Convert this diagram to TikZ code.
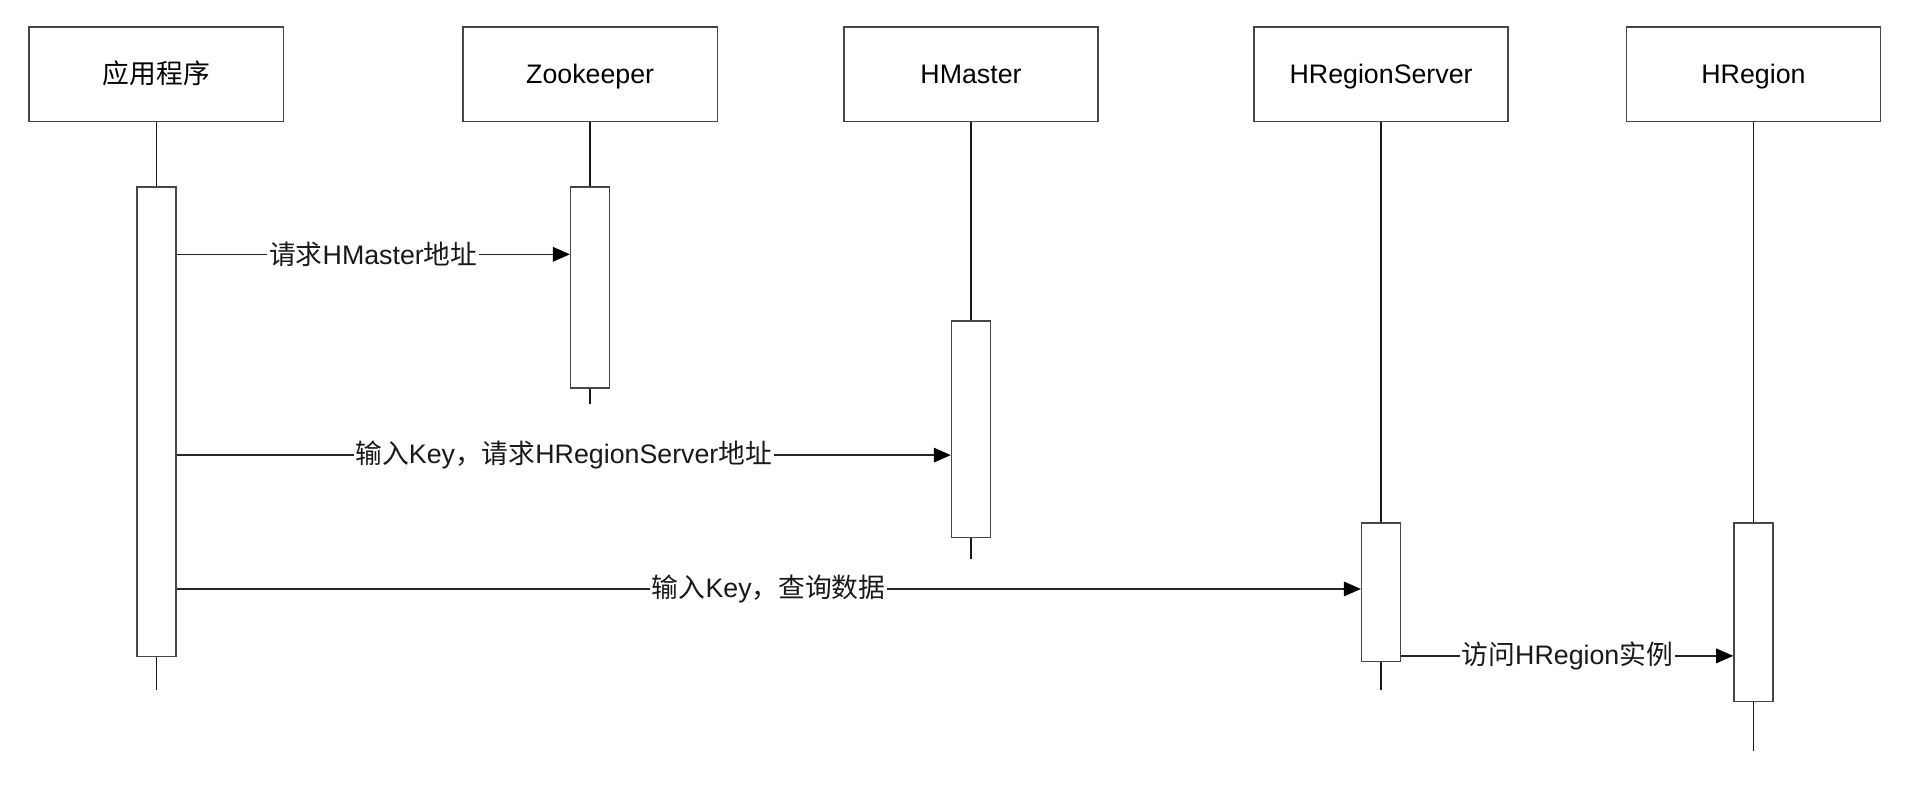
\documentclass[tikz,border=0pt]{standalone}
\usepackage{fontspec}
\setmainfont{Liberation Sans}
\newfontfamily\cjk{Noto Sans CJK SC}
\usetikzlibrary{arrows.meta}
\begin{document}
\begin{tikzpicture}[x=1pt,y=-1pt,
  actor/.style={draw=black!72, line width=1.3pt, fill=white, minimum width=209pt, minimum height=78pt, inner sep=0pt, text height=16pt, text depth=0pt, font=\fontsize{22}{26}\selectfont},
  actbar/.style={draw=black!72, line width=1.3pt, fill=white, minimum width=32pt, inner sep=0pt, anchor=north},
  life/.style={draw=black!90, line width=1.3pt},
  msg/.style={draw=black!85, line width=1.2pt, -{Triangle[length=14pt,width=12pt,color=black]}},
  lbl/.style={fill=white, inner sep=1.5pt, font=\fontsize{22}{26}\selectfont, text=black!90}]
\useasboundingbox[fill=white] (0,0) rectangle (1568,664);

% participants
\node[actor] (b1) at (128.5,61) {{\cjk 应用程序}};
\node[actor] (b2) at (485,61) {Zookeeper};
\node[actor] (b3) at (798,61) {HMaster};
\node[actor] (b4) at (1135,61) {HRegionServer};
\node[actor] (b5) at (1441,61) {HRegion};

% activation bars
\node[actbar, minimum height=386pt] (a1) at (128.5,153) {};
\node[actbar, minimum height=165pt] (a2) at (485,153) {};
\node[actbar, minimum height=178pt] (a3) at (798,263) {};
\node[actbar, minimum height=114pt] (a4) at (1135,429) {};
\node[actbar, minimum height=147pt] (a5) at (1441,429) {};

% lifeline ends
\coordinate (e1) at (128.5,567);
\coordinate (e2) at (485,332);
\coordinate (e3) at (798,459);
\coordinate (e4) at (1135,567);
\coordinate (e5) at (1441,617);

% lifelines
\draw[life] (b1.south) -- (a1.north) (a1.south) -- (e1);
\draw[life] (b2.south) -- (a2.north) (a2.south) -- (e2);
\draw[life] (b3.south) -- (a3.north) (a3.south) -- (e3);
\draw[life] (b4.south) -- (a4.north) (a4.south) -- (e4);
\draw[life] (b5.south) -- (a5.north) (a5.south) -- (e5);

% message heights
\coordinate (m1) at (0,209);
\coordinate (m2) at (0,374);
\coordinate (m3) at (0,484);
\coordinate (m4) at (0,539);

\draw[msg] (a1.east |- m1) -- node[lbl] {{\cjk 请求}HMaster{\cjk 地址}} (a2.west |- m1);
\draw[msg] (a1.east |- m2) -- node[lbl] {{\cjk 输入}Key{\cjk ，请求}HRegionServer{\cjk 地址}} (a3.west |- m2);
\draw[msg] (a1.east |- m3) -- node[lbl] {{\cjk 输入}Key{\cjk ，查询数据}} (a4.west |- m3);
\draw[msg] (a4.east |- m4) -- node[lbl] {{\cjk 访问}HRegion{\cjk 实例}} (a5.west |- m4);
\end{tikzpicture}
\end{document}
